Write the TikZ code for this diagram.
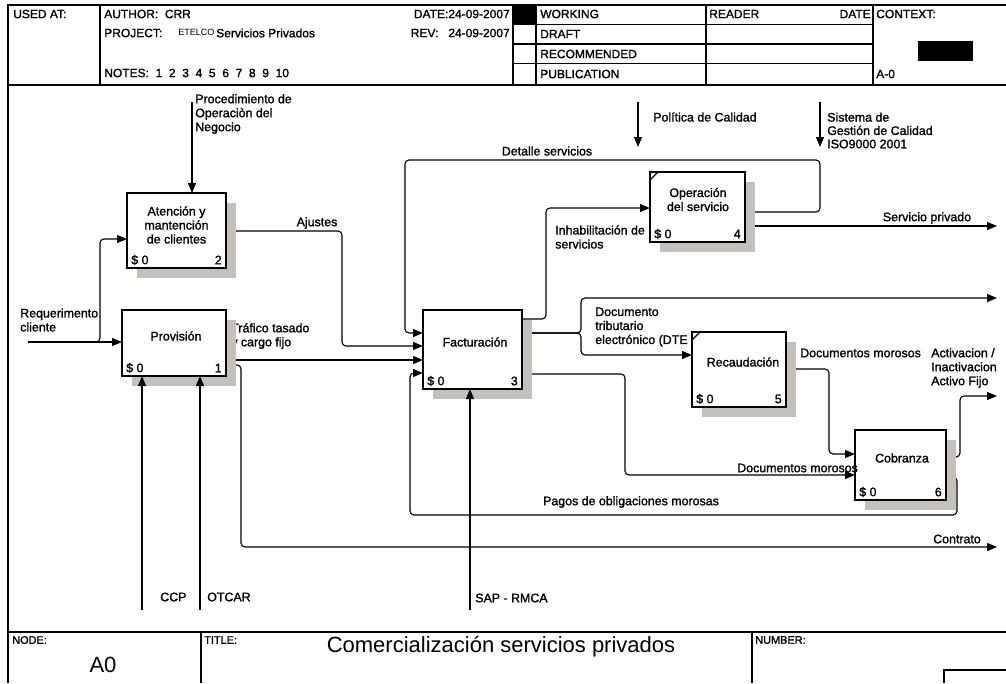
\documentclass[tikz,border=0pt]{standalone}
\usepackage{fontspec}
\setmainfont{Liberation Sans}
\newfontfamily\heavyf{Liberation Sans}[FakeBold=1.4]
\newfontfamily\plainf{Liberation Sans}
\usetikzlibrary{arrows.meta,calc}
\pgfdeclarelayer{conn}
\pgfdeclarelayer{shade}
\pgfsetlayers{conn,shade,main}
\definecolor{shadegray}{RGB}{196,192,188}
\newcommand{\lblf}{\heavyf\fontsize{9.3}{10.5}\selectfont}
\newcommand{\hdrf}{\heavyf\fontsize{9}{11}\selectfont}
\newcommand{\smlf}{\heavyf\fontsize{8.2}{10}\selectfont}
\newcommand{\bigf}{\plainf\fontsize{16.5}{20}\selectfont}
\begin{document}
\begin{tikzpicture}[x=0.75pt,y=-0.75pt,
  frame/.style={line width=0.8pt},
  box/.style={draw, line width=1.6pt, fill=white, inner sep=0pt, outer sep=0pt},
  conn/.style={line width=0.85pt, rounded corners=3pt, -{Triangle[length=7.5pt,width=6pt]}},
  lbl/.style={font=\lblf, inner sep=0pt, align=left},
  blbl/.style={font=\lblf, inner sep=0pt, align=center},
  hdr/.style={font=\hdrf, inner sep=0pt, anchor=west},
  sml/.style={font=\smlf, inner sep=0pt, anchor=west},
  cnr/.style={font=\lblf, inner sep=0pt}]
\useasboundingbox (0,0) rectangle (1006,683);
% ---------- frame ----------
\draw[frame] (8,683) -- (8,5) -- (1006,5);
\draw[frame] (8,85) -- (1006,85);
\foreach \x in {100,513,536,706,873} \draw[frame] (\x,5) -- (\x,85);
\foreach \y in {24.5,44,63.5} \draw[frame] (513,\y) -- (873,\y);
\fill (514,5) rectangle (535,24.5);
\fill (918,41) rectangle (973,61);
\draw[frame] (8,632) -- (1006,632);
\draw[frame] (201,632) -- (201,683);
\draw[frame] (752,632) -- (752,683);
\draw[frame] (1006,670) -- (944,670) -- (944,683);
% ---------- header text ----------
\node[hdr] (usedat) at (13,14) {USED AT:};
\node[hdr] (author) at (104,14) {AUTHOR:~~CRR};
\node[hdr] (project) at (104,33) {PROJECT:};
\node[inner sep=0pt, anchor=west, font=\plainf\fontsize{6.8}{9}\selectfont] (etelco) at (178,32) {ETELCO};
\node[hdr] (servpriv) at (216,33) {Servicios Privados};
\node[hdr] (notes) at (104,73) {NOTES:~~1~~2~~3~~4~~5~~6~~7~~8~~9~~10};
\node[hdr, anchor=east] (date) at (510,14) {DATE:24-09-2007};
\node[hdr, anchor=east] (rev) at (510,33) {REV:~~~24-09-2007};
\node[hdr] (working) at (540,14) {WORKING};
\node[hdr] (draft) at (540,34) {DRAFT};
\node[hdr] (recom) at (540,54) {RECOMMENDED};
\node[hdr] (publ) at (540,74) {PUBLICATION};
\node[hdr] (reader) at (709,14) {READER};
\node[hdr, anchor=east] (rdate) at (871,14) {DATE};
\node[hdr] (context) at (876,14) {CONTEXT:};
\node[hdr] (azero) at (876,74) {A-0};
% ---------- footer text ----------
\node[sml] (nodelbl) at (12,640) {NODE:};
\node[inner sep=0pt, font=\bigf] (nodeval) at (103,665) {A0};
\node[sml] (titlelbl) at (204,640) {TITLE:};
\node[inner sep=0pt, font=\bigf] (title) at (501,647) {Comercialización servicios privados};
\node[sml] (numlbl) at (755,640) {NUMBER:};
% ---------- boxes ----------
\node[box, minimum width=78pt, minimum height=49.5pt] (b1) at (174,343) {};
\node[box, minimum width=74.25pt, minimum height=56.25pt] (b2) at (176.5,230.5) {};
\node[box, minimum width=74.25pt, minimum height=59.25pt] (b3) at (472.5,349.5) {};
\node[box, minimum width=71.25pt, minimum height=52.5pt] (b4) at (697.5,207) {};
\node[box, minimum width=70.5pt, minimum height=56.25pt] (b5) at (739,369.5) {};
\node[box, minimum width=68.25pt, minimum height=52.5pt] (b6) at (900.5,465) {};
\draw[line width=1pt] ($(b4.north west)+(0,8)$) -- ($(b4.north west)+(8,0)$);
\draw[line width=1pt] ($(b5.north west)+(0,8)$) -- ($(b5.north west)+(8,0)$);
\node[blbl] (t1) at ($(b1.center)+(2,-7)$) {Provisión};
\node[blbl] (t2) at ($(b2.center)+(0,-5.5)$) {Atención y\\mantención\\de clientes};
\node[blbl] (t3) at ($(b3.center)+(2.5,-7.5)$) {Facturación};
\node[blbl] (t4) at ($(b4.center)+(0.5,-7.5)$) {Operación\\del servicio};
\node[blbl] (t5) at ($(b5.center)+(4,-7.5)$) {Recaudación};
\node[blbl] (t6) at ($(b6.center)+(1.5,-7)$) {Cobranza};
\foreach \b/\n in {b1/1,b2/2,b3/3,b4/4,b5/5,b6/6}{
  \node[cnr, anchor=west] (\b cost) at ($(\b.south west)+(4,-8)$) {\$ 0};
  \node[cnr, anchor=east] (\b num) at ($(\b.south east)+(-4,-8)$) {\n};
}
% ---------- shadows ----------
\begin{pgfonlayer}{shade}
\foreach \b in {b1,b2,b3,b4,b5,b6}
  \fill[shadegray] ([shift={(10,10)}]\b.north west) rectangle ([shift={(10,10)}]\b.south east);
\end{pgfonlayer}
% ---------- free ends ----------
\coordinate (reqin) at (28,342);
\coordinate (reqbr) at (90,342);
\coordinate (procin) at (192,102);
\coordinate (ccpin) at (142,610);
\coordinate (otcarin) at (200,610);
\coordinate (sapin) at (470,610);
\coordinate (polin) at (638,102);
\coordinate (polout) at (638,147);
\coordinate (sisin) at (820,102);
\coordinate (sisout) at (820,147);
\coordinate (servout) at (997,226);
\coordinate (dteout) at (997,298);
\coordinate (actout) at (997,396);
\coordinate (contout) at (997,547);
% ---------- outputs (under shadows) ----------
\begin{pgfonlayer}{conn}
\draw[conn] (b2.east |- 0,231) -- (342,231) -- (342,346) -- (b3.west |- 0,346);
\draw[conn] (b1.east |- 0,360) -- (b3.west |- 0,360);
\draw[conn] (b1.east |- 0,365) -- (241,365) -- (241,547) -- (contout);
\draw[conn] (b3.east |- 0,319) -- (546,319) -- (546,208) -- (b4.west |- 0,208);
\draw[conn] (b3.east |- 0,333) -- (581,333) -- (581,298) -- (dteout);
\draw[conn] (b3.east |- 0,333) -- (581,333) -- (581,355) -- (b5.west |- 0,355);
\draw[conn] (b3.east |- 0,374) -- (625,374) -- (625,475) -- (b6.west |- 0,475);
\draw[conn] (b4.east |- 0,212) -- (820,212) -- (820,160) -- (405,160) -- (405,333) -- (b3.west |- 0,333);
\draw[conn] (b4.east |- 0,226) -- (servout);
\draw[conn] (b5.east |- 0,369) -- (829,369) -- (829,454) -- (b6.west |- 0,454);
\draw[conn] (b6.east |- 0,457) -- (960,457) -- (960,396) -- (actout);
\draw[conn] (b6.east |- 0,477) -- (957,477) -- (957,515) -- (410,515) -- (410,373) -- (b3.west |- 0,373);
\node[lbl, anchor=west] (ltraf) at (231,336) {Tráfico tasado\\y cargo fijo};
\end{pgfonlayer}
% ---------- inputs, controls, mechanisms ----------
\draw[conn] (reqin) -- (b1.west |- reqin);
\draw[conn] (reqbr) -- (100,342) -- (100,239) -- (b2.west |- 0,239);
\draw[conn] (procin) -- (b2.north -| procin);
\draw[conn] (ccpin) -- (b1.south -| ccpin);
\draw[conn] (otcarin) -- (b1.south -| otcarin);
\draw[conn] (sapin) -- (b3.south -| sapin);
\draw[conn] (polin) -- (polout);
\draw[conn] (sisin) -- (sisout);
% ---------- labels ----------
\node[lbl, anchor=west] (lproc) at (195,114) {Procedimiento de\\Operaciòn del\\Negocio};
\node[lbl] (lajus) at (317,223) {Ajustes};
\node[lbl, anchor=west] (lreq) at (20,320) {Requerimento\\cliente};
\node[lbl] (ldet) at (547,151) {Detalle servicios};
\node[lbl, anchor=west] (lpol) at (653,117) {Política de Calidad};
\node[lbl, anchor=west, font=\heavyf\fontsize{9.3}{10}\selectfont] (lsis) at (827,130.5) {Sistema de\\Gestión de Calidad\\ISO9000 2001};
\node[lbl, anchor=west] (linh) at (555,237) {Inhabilitación de\\servicios};
\node[lbl] (lserv) at (927,218) {Servicio privado};
\node[lbl, anchor=west] (ldte) at (595,327) {Documento\\tributario\\electrónico (DTE};
\node[lbl, anchor=west] (ldm1) at (800,353) {Documentos morosos};
\node[lbl, anchor=west] (lact) at (931,368) {Activacion /\\Inactivacion\\Activo Fijo};
\node[lbl, anchor=west] (ldm2) at (737,468) {Documentos morosos};
\node[lbl] (lpag) at (631,502) {Pagos de obligaciones morosas};
\node[lbl] (lcont) at (957,539) {Contrato};
\node[lbl, anchor=west] (lccp) at (160,597) {CCP};
\node[lbl, anchor=west] (lotc) at (207,597) {OTCAR};
\node[lbl, anchor=west] (lsap) at (475,598) {SAP - RMCA};
\end{tikzpicture}
\end{document}
